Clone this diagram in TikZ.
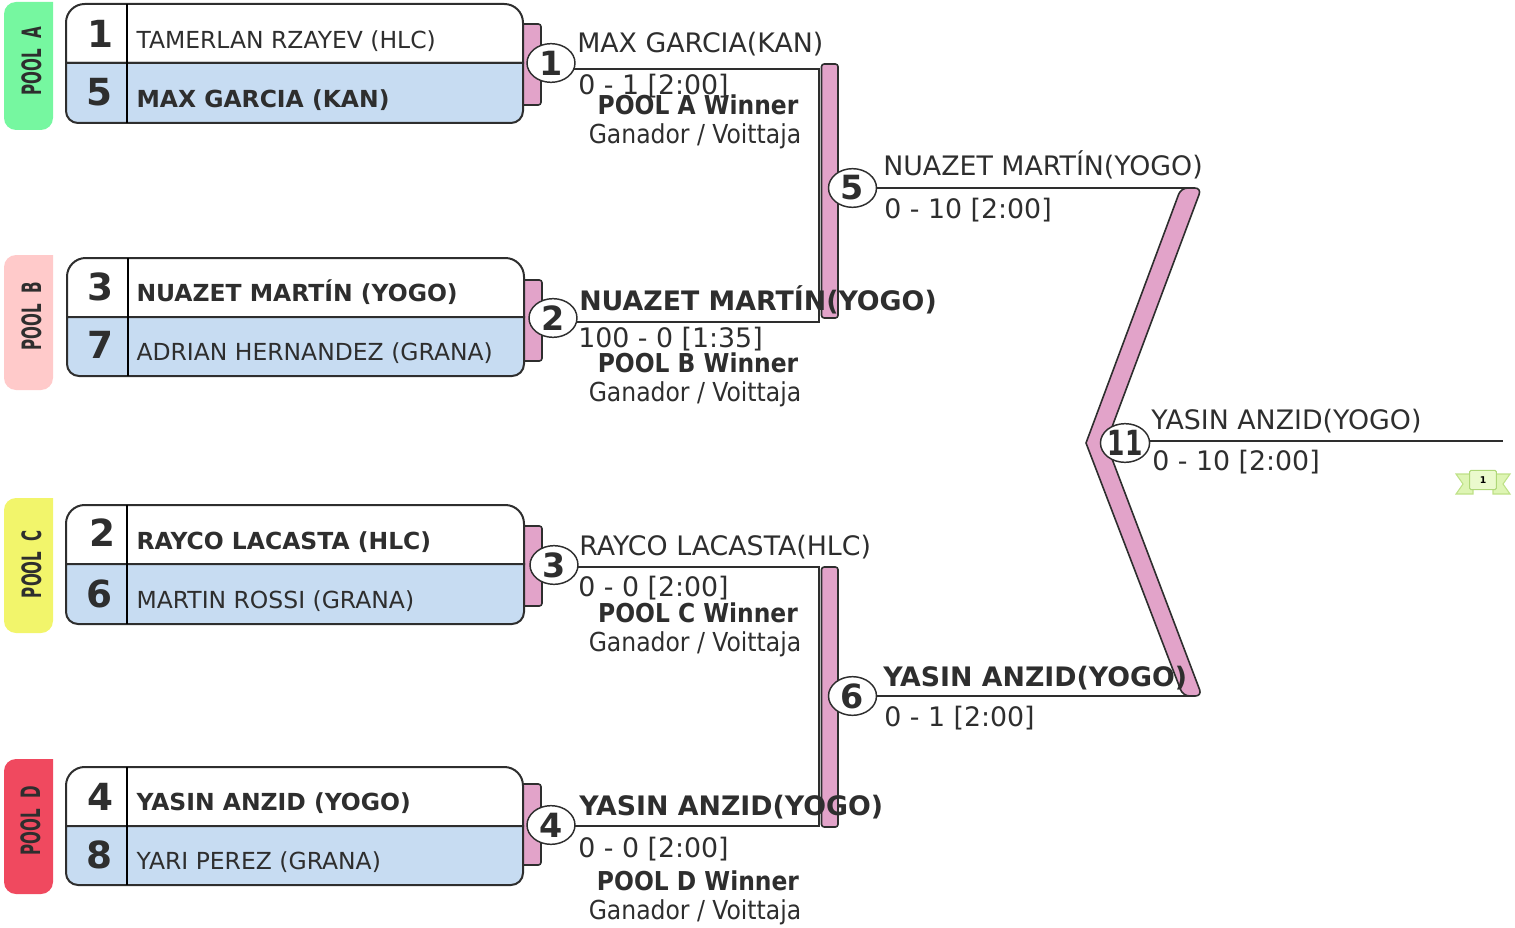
\documentclass[tikz,border=0pt]{standalone}
\usepackage{fontspec}
\setmainfont{DejaVu Sans}
\newfontfamily\condfont{DejaVu Sans Condensed}
\usetikzlibrary{shapes.geometric}
\pgfdeclarelayer{behind}
\pgfsetlayers{behind,main}
\definecolor{inkgrey}{RGB}{46,46,46}
\definecolor{rowblue}{RGB}{199,220,242}
\definecolor{barpink}{RGB}{226,163,201}
\newcommand{\squeezed}[1]{\scalebox{0.63}[1]{#1}}
\tikzset{every picture/.style={line width=1.5pt},
  wire/.style={draw=inkgrey,line width=1.1pt},
  upperrow/.style={draw=inkgrey,fill=white},
  lowerrow/.style={draw=inkgrey,fill=rowblue},
  pinkbar/.style={draw=inkgrey,fill=barpink,line width=1.2pt,rounded corners=2pt},
  pooltab/.style={rounded corners=9pt},
  seed/.style={anchor=base,inner sep=0pt,text=inkgrey,font=\fontsize{28}{28}\selectfont\bfseries},
  entrant/.style={anchor=base west,inner sep=0pt,text=inkgrey,font=\fontsize{17.6}{18}\selectfont},
  entrantwin/.style={entrant,font=\fontsize{17.6}{18}\selectfont\bfseries},
  matchname/.style={anchor=base west,inner sep=0pt,text=inkgrey,font=\fontsize{20.1}{21}\selectfont},
  matchwin/.style={matchname,font=\fontsize{20.1}{21}\selectfont\bfseries},
  poolname/.style={anchor=base,rotate=90,inner sep=0pt,text=inkgrey,font=\condfont\fontsize{20}{20}\selectfont\bfseries},
  winnertop/.style={anchor=base,inner sep=0pt,text=inkgrey,font=\condfont\fontsize{19.5}{21}\selectfont\bfseries},
  winnerlow/.style={anchor=base,inner sep=0pt,text=inkgrey,font=\condfont\fontsize{19.6}{21}\selectfont},
  matchno/.style={ellipse,draw=inkgrey,fill=white,line width=1.1pt,minimum width=36pt,minimum height=29pt,inner sep=0pt,text=inkgrey,font=\fontsize{25}{25}\selectfont\bfseries}}

\begin{document}
\begin{tikzpicture}[x=0.75pt,y=0.75pt,yscale=-1,xscale=1]
\useasboundingbox (0,0) rectangle (1515,927);

% Pool tabs
\fill[pooltab,fill={rgb,255:red,118;green,247;blue,160}] (53,2) -- (4,2) -- (4,130) -- (53,130) [sharp corners] -- cycle;
\fill[pooltab,fill={rgb,255:red,255;green,202;blue,202}] (53,255) -- (4,255) -- (4,390) -- (53,390) [sharp corners] -- cycle;
\fill[pooltab,fill={rgb,255:red,242;green,245;blue,107}] (53,498) -- (4,498) -- (4,633) -- (53,633) [sharp corners] -- cycle;
\fill[pooltab,fill={rgb,255:red,240;green,73;blue,95}] (53,759) -- (4,759) -- (4,894) -- (53,894) [sharp corners] -- cycle;
\node[poolname] (tabA) at (41,61) {\squeezed{POOL\ \ A}};
\node[poolname] (tabB) at (41,316) {\squeezed{POOL\ \ B}};
\node[poolname] (tabC) at (41,564) {\squeezed{POOL\ \ C}};
\node[poolname] (tabD) at (40,821) {\squeezed{POOL\ \ D}};

% Pool A box
\draw[upperrow] (66,63) [rounded corners=14pt] -- (66,4) -- (523,4) [sharp corners] -- (523,63) -- cycle;
\draw[lowerrow] (66,63) [rounded corners=9pt] -- (66,123) -- (523,123) [sharp corners] -- (523,63) -- cycle;
\draw (127,4) -- (127,123);
% Pool B box
\draw[upperrow] (67,317) [rounded corners=14pt] -- (67,258) -- (524,258) [sharp corners] -- (524,317) -- cycle;
\draw[lowerrow] (67,317) [rounded corners=9pt] -- (67,376) -- (524,376) [sharp corners] -- (524,317) -- cycle;
\draw (128,258) -- (128,376);
% Pool C box
\draw[upperrow] (66,564) [rounded corners=14pt] -- (66,505) -- (524,505) [sharp corners] -- (524,564) -- cycle;
\draw[lowerrow] (66,564) [rounded corners=9pt] -- (66,624) -- (524,624) [sharp corners] -- (524,564) -- cycle;
\draw (127,505) -- (127,624);
% Pool D box
\draw[upperrow] (66,826) [rounded corners=14pt] -- (66,767) -- (523,767) [sharp corners] -- (523,826) -- cycle;
\draw[lowerrow] (66,826) [rounded corners=9pt] -- (66,885) -- (523,885) [sharp corners] -- (523,826) -- cycle;
\draw (127,767) -- (127,885);

% Seeds and entrants
\node[seed] (seedA1) at (100,48) {1};
\node[seed] (seedA5) at (99,106) {5};
\node[entrant] (nameA1) at (135.5,49) {TAMERLAN RZAYEV (HLC)};
\node[entrantwin] (nameA5) at (135.5,108) {MAX GARCIA (KAN)};
\node[seed] (seedB3) at (100,300) {3};
\node[seed] (seedB7) at (100,358) {7};
\node[entrantwin] (nameB3) at (135.5,301) {NUAZET MARTÍN (YOGO)};
\node[entrant] (nameB7) at (135.5,360) {ADRIAN HERNANDEZ (GRANA)};
\node[seed] (seedC2) at (102,546) {2};
\node[seed] (seedC6) at (99,607) {6};
\node[entrantwin] (nameC2) at (135.5,549) {RAYCO LACASTA (HLC)};
\node[entrant] (nameC6) at (135.5,608) {MARTIN ROSSI (GRANA)};
\node[seed] (seedD4) at (100,810) {4};
\node[seed] (seedD8) at (99,868) {8};
\node[entrantwin] (nameD4) at (135.5,810) {YASIN ANZID (YOGO)};
\node[entrant] (nameD8) at (135.5,869) {YARI PEREZ (GRANA)};

% Match numbers
\node[matchno] (match1) at (551,63) {1};
\node[matchno] (match2) at (553,318) {2};
\node[matchno] (match3) at (554,565) {3};
\node[matchno] (match4) at (551,825) {4};
\node[matchno] (match5) at (852.5,188) {5};
\node[matchno] (match6) at (852.5,696) {6};
\node[matchno,font=\fontsize{26}{26}\selectfont\bfseries] (match11) at (1125,443) {\scalebox{0.72}[1]{11}};

% Joints of the wires
\coordinate (join1) at (819,69);
\coordinate (join2) at (819,322);
\coordinate (join3) at (819,567);
\coordinate (join4) at (819,826);
\coordinate (join5) at (1190,188);
\coordinate (join6) at (1190,696);
\coordinate (final) at (1503,441);

\begin{pgfonlayer}{behind}
% Pink brackets
\draw[pinkbar] (515,24) rectangle (541,105);
\draw[pinkbar] (515,280) rectangle (542,361);
\draw[pinkbar] (515,526) rectangle (542,606);
\draw[pinkbar] (515,784) rectangle (541,865);
\draw[pinkbar] (821.5,64) rectangle (838,318);
\draw[pinkbar] (821.5,567) rectangle (838,827);
\draw[pinkbar,sharp corners] (1086,443) [rounded corners=5pt] -- (1181,188) -- (1201.5,188) [sharp corners] -- (1106,443) [rounded corners=5pt] -- (1202,696) -- (1183,696) [sharp corners] -- cycle;
% Wires
\draw[wire] (match1 |- join1) -- (join1) -- (join2) -- (match2 |- join2);
\draw[wire] (match3 |- join3) -- (join3) -- (join4) -- (match4 |- join4);
\draw[wire] (match5) -- (join5);
\draw[wire] (match6) -- (join6);
\draw[wire] (match11 |- final) -- (final);
\end{pgfonlayer}

% Match results
\node[matchname] (res1) at (577,53) {MAX GARCIA(KAN)};
\node[matchname] (score1) at (578,95) {0 - 1 [2:00]};
\node[matchwin] (res2) at (579,310) {NUAZET MARTÍN(YOGO)};
\node[matchname] (score2) at (578,347) {100 - 0 [1:35]};
\node[matchname] (res3) at (579,555) {RAYCO LACASTA(HLC)};
\node[matchname] (score3) at (578,596) {0 - 0 [2:00]};
\node[matchwin] (res4) at (579,815) {YASIN ANZID(YOGO)};
\node[matchname] (score4) at (578,857) {0 - 0 [2:00]};
\node[matchname] (res5) at (883,176) {NUAZET MARTÍN(YOGO)};
\node[matchname] (score5) at (884,219) {0 - 10 [2:00]};
\node[matchwin] (res6) at (883,686) {YASIN ANZID(YOGO)};
\node[matchname] (score6) at (884,726) {0 - 1 [2:00]};
\node[matchname] (res11) at (1151,429) {YASIN ANZID(YOGO)};
\node[matchname] (score11) at (1152,470) {0 - 10 [2:00]};

% Winner notes
\node[winnertop] (winA) at (698,115) {POOL A Winner};
\node[winnerlow] (ganA) at (695,144) {Ganador / Voittaja};
\node[winnertop] (winB) at (698,372) {POOL B Winner};
\node[winnerlow] (ganB) at (695,401) {Ganador / Voittaja};
\node[winnertop] (winC) at (698,622) {POOL C Winner};
\node[winnerlow] (ganC) at (695,651) {Ganador / Voittaja};
\node[winnertop] (winD) at (698,890) {POOL D Winner};
\node[winnerlow] (ganD) at (695,919) {Ganador / Voittaja};

% Ribbon
\draw[draw={rgb,255:red,190;green,225;blue,135},fill={rgb,255:red,222;green,245;blue,180},line width=0.8pt] (1456,474) -- (1473,474) -- (1473,494) -- (1456,494) -- (1463,484) -- cycle;
\draw[draw={rgb,255:red,190;green,225;blue,135},fill={rgb,255:red,222;green,245;blue,180},line width=0.8pt] (1510,474) -- (1493,474) -- (1493,494) -- (1510,494) -- (1503,484) -- cycle;
\node[draw={rgb,255:red,175;green,215;blue,120},fill={rgb,255:red,235;green,250;blue,205},line width=0.8pt,rounded corners=1pt,minimum width=20pt,minimum height=14.5pt,inner sep=0pt,font=\fontsize{7}{7}\selectfont\bfseries] (medal) at (1483,480) {1};

\end{tikzpicture}
\end{document}
